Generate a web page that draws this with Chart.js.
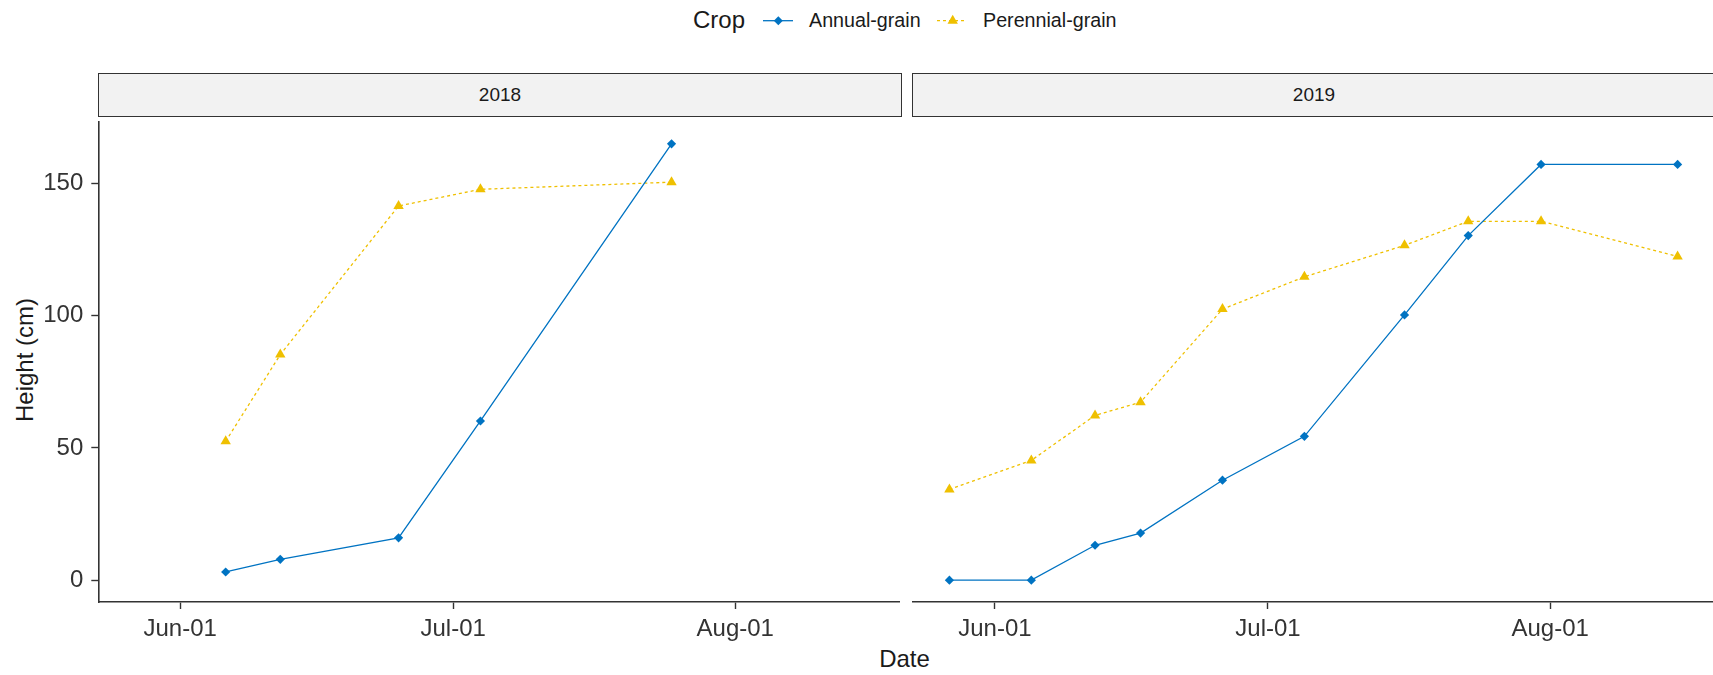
<!DOCTYPE html>
<html>
<head>
<meta charset="utf-8">
<script src="https://cdn.jsdelivr.net/npm/chart.js@4/dist/chart.umd.min.js"></script>
<style>
  html, body { margin: 0; padding: 0; background: #fff; width: 1713px; height: 675px; overflow: hidden; }
  body { position: relative; font-family: "Liberation Sans", Arial, sans-serif; color: #1a1a1a; }
  .abs { position: absolute; white-space: nowrap; }
  canvas { position: absolute; display: block; }
  .strip { position: absolute; box-sizing: border-box; background: #f2f2f2; border: 1.6px solid #333;
           font-size: 19px; color: #1a1a1a; display: flex; align-items: center; justify-content: center; }
</style>
</head>
<body>
<div class="abs" id="legTitle" style="left:693px; top:6px; font-size:24px; line-height:28px;">Crop</div>
<svg class="abs" style="left:760px; top:8px;" width="38" height="26">
  <line x1="3" y1="12.7" x2="33" y2="12.7" stroke="#0073C2" stroke-width="1.3"/>
  <polygon points="18.3,8.2 22.8,12.7 18.3,17.2 13.8,12.7" fill="#0073C2"/>
</svg>
<div class="abs" style="left:809px; top:9px; font-size:19.7px; line-height:23px;">Annual-grain</div>
<svg class="abs" style="left:934px; top:8px;" width="38" height="26">
  <line x1="3" y1="12.7" x2="33" y2="12.7" stroke="#EFC000" stroke-width="1.3" stroke-dasharray="3 3"/>
  <polygon points="18.7,6.7 23.9,15.7 13.5,15.7" fill="#EFC000"/>
</svg>
<div class="abs" style="left:983px; top:9px; font-size:19.7px; line-height:23px;">Perennial-grain</div>

<div class="strip" style="left:98px; top:73px; width:804px; height:44px;">2018</div>
<div class="strip" style="left:912px; top:73px; width:804px; height:44px;">2019</div>

<div class="abs" style="left:25px; top:360px; font-size:24px; line-height:28px; transform: translate(-50%,-50%) rotate(-90deg);">Height (cm)</div>
<div class="abs" style="left:904.5px; top:659px; font-size:24px; line-height:28px; transform: translate(-50%,-50%);">Date</div>

<canvas id="c2018" width="905" height="559" style="left:0px; top:116px;"></canvas>
<canvas id="c2019" width="815" height="559" style="left:905px; top:116px;"></canvas>

<script>
// Sampling dates (month-day) and plant heights in cm, per year and crop
const dates2018 = ["06-06", "06-12", "06-25", "07-04", "07-25"];
const annual2018 = [3.1, 7.9, 16.0, 60.2, 165.0];
const perennial2018 = [52.5, 85.3, 141.5, 147.8, 150.5];

const dates2019 = ["05-27", "06-05", "06-12", "06-17", "06-26", "07-05", "07-16", "07-23", "07-31", "08-15"];
const annual2019 = [0, 0, 13.2, 17.8, 37.8, 54.4, 100.3, 130.3, 157.2, 157.2];
const perennial2019 = [34.3, 45.3, 62.3, 67.3, 102.5, 114.7, 126.6, 135.7, 135.7, 122.4];

// Axis ticks
const xTickDates = ["06-01", "07-01", "08-01"];
const xTickLabels = ["Jun-01", "Jul-01", "Aug-01"];
const yTicks = [0, 50, 100, 150];

// Shared axis limits (days relative to June 1, height in cm)
const X_MIN = -9, X_MAX = 79;
const Y_MIN = -8.25, Y_MAX = 173.25;

const BLUE = "#0073C2";
const YELLOW = "#EFC000";
const AXIS = "#333333";

// Days since June 1 for a "MM-DD" string (non-leap year)
function dayOffset(md) {
  const [m, d] = md.split("-").map(Number);
  return (Date.UTC(2019, m - 1, d) - Date.UTC(2019, 5, 1)) / 86400000;
}

function toPoints(dates, values) {
  return dates.map((md, i) => ({ x: dayOffset(md), y: values[i] }));
}

const xTickDays = xTickDates.map(dayOffset);

function datasets(dates, annual, perennial) {
  return [
    {
      label: "Annual-grain",
      data: toPoints(dates, annual),
      borderColor: BLUE, backgroundColor: BLUE, borderWidth: 1.3,
      pointStyle: "rectRot", pointRadius: 4.6, pointBorderWidth: 0,
      pointBackgroundColor: BLUE, tension: 0
    },
    {
      label: "Perennial-grain",
      data: toPoints(dates, perennial),
      borderColor: YELLOW, backgroundColor: YELLOW, borderWidth: 1.3, borderDash: [3, 3],
      pointStyle: "triangle", pointRadius: 6, pointBorderWidth: 0,
      pointBackgroundColor: YELLOW, tension: 0
    }
  ];
}

function options(showY, padLeft, padRight) {
  const tickFont = { family: "Liberation Sans", size: 24 };
  return {
    responsive: false,
    animation: false,
    events: [],
    layout: { padding: { left: padLeft, right: padRight, top: 0, bottom: 0 } },
    plugins: { legend: { display: false }, tooltip: { enabled: false } },
    scales: {
      x: {
        type: "linear",
        min: X_MIN, max: X_MAX,
        afterBuildTicks: s => { s.ticks = xTickDays.map(v => ({ value: v })); },
        afterFit: s => { s.height = 73; s.paddingLeft = 0; s.paddingRight = 0; },
        ticks: {
          autoSkip: false, maxRotation: 0, padding: 6,
          color: "#333", font: tickFont,
          callback: (v, i) => xTickLabels[i]
        },
        grid: { drawOnChartArea: false, drawTicks: true, tickLength: 7, tickColor: AXIS, tickWidth: 1.4 },
        border: { display: true, color: AXIS, width: 1.6 }
      },
      y: {
        type: "linear",
        display: showY,
        min: Y_MIN, max: Y_MAX,
        afterBuildTicks: s => { s.ticks = yTicks.map(v => ({ value: v })); },
        afterFit: s => { s.width = showY ? 98.3 : 0; s.paddingTop = 0; s.paddingBottom = 0; },
        ticks: { padding: 8, color: "#333", font: tickFont },
        grid: { drawOnChartArea: false, drawTicks: true, tickLength: 7, tickColor: AXIS, tickWidth: 1.4 },
        border: { display: true, color: AXIS, width: 1.6 }
      }
    }
  };
}

new Chart(document.getElementById("c2018"), {
  type: "line",
  data: { datasets: datasets(dates2018, annual2018, perennial2018) },
  options: options(true, 0, 4)
});

new Chart(document.getElementById("c2019"), {
  type: "line",
  data: { datasets: datasets(dates2019, annual2019, perennial2019) },
  options: options(false, 8, 4.3)
});
</script>
</body>
</html>
